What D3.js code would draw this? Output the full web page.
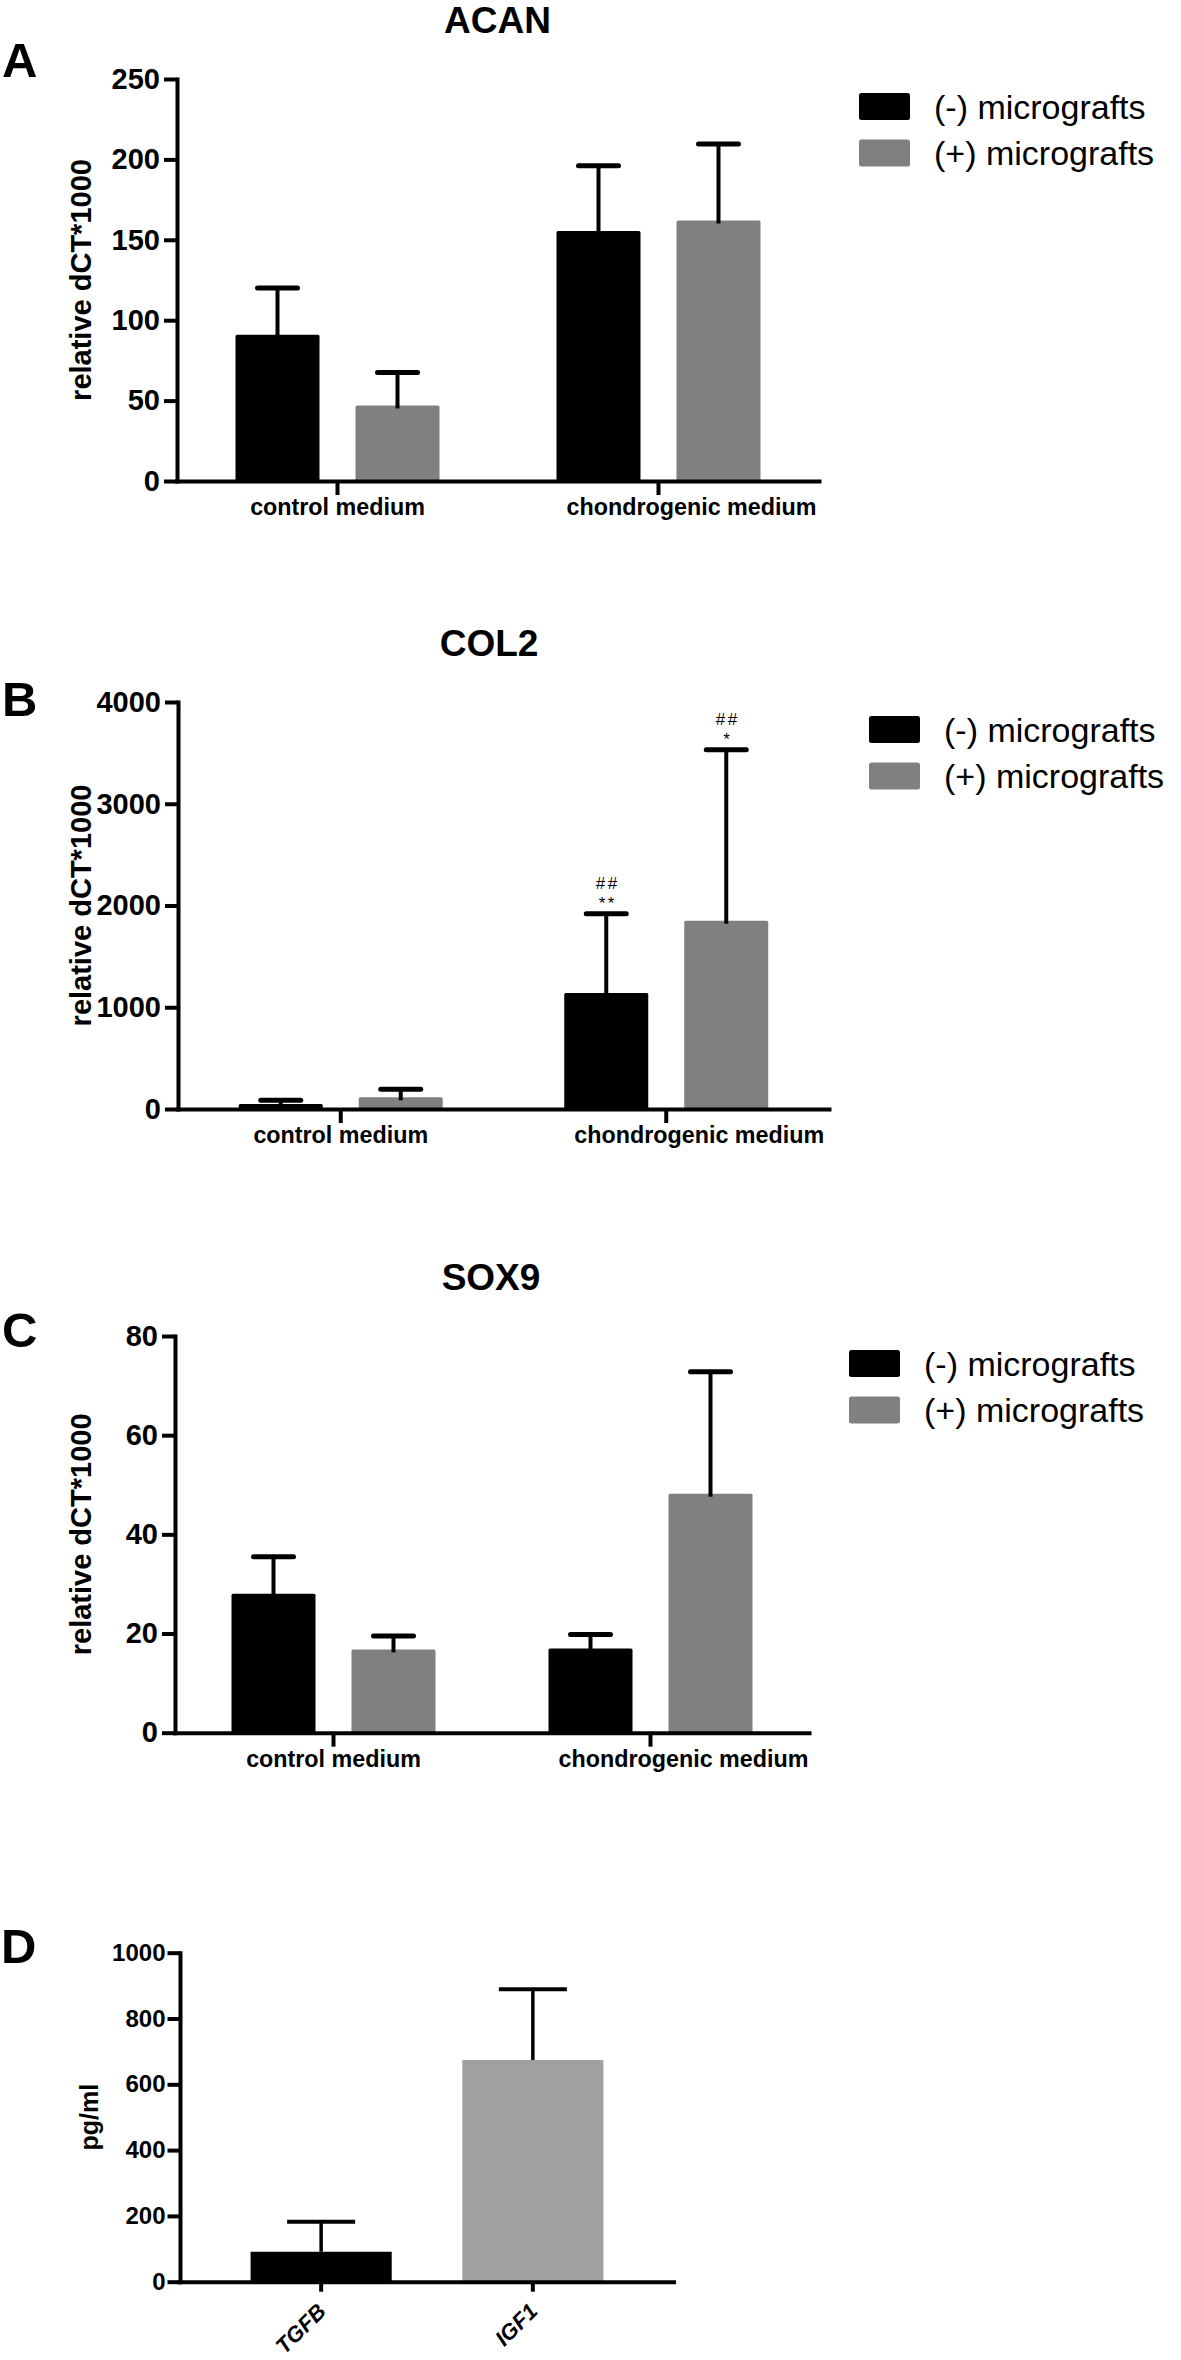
<!DOCTYPE html>
<html><head><meta charset="utf-8">
<script src="https://cdn.jsdelivr.net/npm/d3@7"></script>
<style>
html,body{margin:0;padding:0;background:#fff;}
svg{display:block;font-family:"Liberation Sans",Arial,Helvetica,sans-serif;}
</style>
</head><body>
<script>
// ---------- data ----------
const mediumCategories = ["control medium", "chondrogenic medium"];
const seriesNames = ["(-) micrografts", "(+) micrografts"];
const seriesColors = ["#000000", "#808080"];

const acanMinusMean = [91, 155.5];
const acanMinusSD   = [29, 40.5];
const acanPlusMean  = [47, 162];
const acanPlusSD    = [20.5, 47.5];
const acanTicks     = [0, 50, 100, 150, 200, 250];

const col2MinusMean = [50, 1140];
const col2MinusSD   = [35, 780];
const col2PlusMean  = [115, 1850];
const col2PlusSD    = [80, 1680];
const col2Ticks     = [0, 1000, 2000, 3000, 4000];
const col2Marks = [
  {category: "chondrogenic medium", series: "(-) micrografts", lines: ["##", "**"]},
  {category: "chondrogenic medium", series: "(+) micrografts", lines: ["##", "*"]}
];

const sox9MinusMean = [28, 17];
const sox9MinusSD   = [7.5, 2.8];
const sox9PlusMean  = [16.8, 48.2];
const sox9PlusSD    = [2.7, 24.6];
const sox9Ticks     = [0, 20, 40, 60, 80];

const factorCategories = ["TGFB", "IGF1"];
const factorMean   = [91, 674];
const factorSD     = [91, 215];
const factorColors = ["#000000", "#a0a0a0"];
const factorTicks  = [0, 200, 400, 600, 800, 1000];

// ---------- drawing ----------
const W = 1181, H = 2360;
const svg = d3.select("body").append("svg").attr("width", W).attr("height", H);
const plain = d3.format("d");

function styleAxis(sel, w) {
  sel.attr("font-family", null);
  sel.select(".domain").attr("stroke", "#000").attr("stroke-width", w).attr("stroke-linecap", "square");
  sel.selectAll(".tick line").attr("stroke", "#000").attr("stroke-width", w);
  sel.selectAll(".tick text").attr("fill", "#000");
}

function groupedPanel(opt) {
  const g = svg.append("g");
  const x = d3.scaleBand().domain(mediumCategories).range([opt.x0, opt.x1]).padding(0);
  const bw = x.bandwidth();
  const xs = d3.scaleBand().domain(seriesNames).range([bw / 2 - 102, bw / 2 + 102]).paddingInner(0.3);
  const y = d3.scaleLinear().domain([0, d3.max(opt.ticks)]).range([opt.yBottom, opt.yTop]);

  const rows = [];
  seriesNames.forEach((s, si) => mediumCategories.forEach((c, ci) =>
    rows.push({c, s, si, mean: opt.means[si][ci], sd: opt.sds[si][ci]})));

  g.selectAll("rect.bar").data(rows).join("rect").attr("class", "bar")
    .attr("x", d => x(d.c) + xs(d.s)).attr("width", xs.bandwidth())
    .attr("y", d => y(d.mean)).attr("height", d => y(0) - y(d.mean))
    .attr("rx", 1.5).attr("fill", d => seriesColors[d.si]);

  const cx = d => x(d.c) + xs(d.s) + xs.bandwidth() / 2;
  g.selectAll("line.stem").data(rows).join("line").attr("class", "stem")
    .attr("x1", cx).attr("x2", cx)
    .attr("y1", d => Math.min(y(d.mean) + 3, y(0))).attr("y2", d => y(d.mean + d.sd))
    .attr("stroke", "#000").attr("stroke-width", 4);
  g.selectAll("line.cap").data(rows).join("line").attr("class", "cap")
    .attr("x1", d => cx(d) - 20).attr("x2", d => cx(d) + 20)
    .attr("y1", d => y(d.mean + d.sd)).attr("y2", d => y(d.mean + d.sd))
    .attr("stroke", "#000").attr("stroke-width", 5).attr("stroke-linecap", "round");

  // significance marks
  if (opt.marks) {
    opt.marks.forEach(m => {
      const r = rows.find(d => d.c === m.category && d.s === m.series);
      const capY = y(r.mean + r.sd);
      const n = m.lines.length;
      m.lines.forEach((t, i) => {
        g.append("text").attr("x", cx(r) + 1.5).attr("y", capY - 5 - (n - 1 - i) * 20)
          .attr("text-anchor", "middle").attr("font-size", 17).attr("letter-spacing", 2.5)
          .attr("fill", "#000").text(t);
      });
    });
  }

  // axes
  const ya = g.append("g").attr("transform", `translate(${opt.x0},0)`)
    .call(d3.axisLeft(y).tickValues(opt.ticks).tickFormat(plain)
      .tickSize(13).tickPadding(4).tickSizeOuter(0));
  ya.selectAll(".tick text").attr("font-size", 29).attr("font-weight", "bold");
  styleAxis(ya, 4);

  const xa = g.append("g").attr("transform", `translate(0,${opt.yBottom})`)
    .call(d3.axisBottom(x).tickSize(14).tickPadding(3.5).tickSizeOuter(0));
  xa.selectAll(".tick text").attr("font-size", 23.3).attr("font-weight", "bold")
    .attr("dx", (d, i) => i === 1 ? 33 : 0);
  styleAxis(xa, 4);

  // y label
  g.append("text").attr("transform", `translate(91,${(opt.yTop + opt.yBottom) / 2}) rotate(-90)`)
    .attr("text-anchor", "middle").attr("font-size", 29).attr("font-weight", "bold")
    .attr("fill", "#000").text("relative dCT*1000");

  // title
  g.append("text").attr("x", opt.titleX).attr("y", opt.yTop - 46)
    .attr("text-anchor", "middle").attr("font-size", 37).attr("font-weight", "bold")
    .attr("fill", "#000").text(opt.title);

  // panel letter
  g.append("text").attr("x", 2).attr("y", opt.letterY)
    .attr("font-size", 49).attr("font-weight", "bold").attr("fill", "#000").text(opt.letter);

  // legend
  const lg = g.append("g").attr("transform", `translate(${opt.x1 + 40},${opt.yTop + 14})`);
  const li = lg.selectAll("g").data(seriesNames).join("g")
    .attr("transform", (d, i) => `translate(0,${i * 46.5})`);
  li.append("rect").attr("width", 51).attr("height", 27).attr("rx", 2.5)
    .attr("fill", (d, i) => seriesColors[i]);
  li.append("text").attr("x", 75).attr("y", 25.5).attr("font-size", 34)
    .attr("fill", "#000").text(d => d);
}

groupedPanel({title: "ACAN", letter: "A", x0: 177, x1: 819, yTop: 79, yBottom: 481,
  titleX: 497.5, letterY: 77,
  means: [acanMinusMean, acanPlusMean], sds: [acanMinusSD, acanPlusSD], ticks: acanTicks});

groupedPanel({title: "COL2", letter: "B", x0: 178, x1: 829, yTop: 702, yBottom: 1109,
  titleX: 489, letterY: 716,
  means: [col2MinusMean, col2PlusMean], sds: [col2MinusSD, col2PlusSD], ticks: col2Ticks,
  marks: col2Marks});

groupedPanel({title: "SOX9", letter: "C", x0: 175, x1: 809, yTop: 1336, yBottom: 1732.7,
  titleX: 491, letterY: 1347,
  means: [sox9MinusMean, sox9PlusMean], sds: [sox9MinusSD, sox9PlusSD], ticks: sox9Ticks});

// ---------- panel D ----------
(function () {
  const x0 = 180, x1 = 674, yTop = 1952.7, yBottom = 2281.7;
  const g = svg.append("g");
  const x = d3.scaleBand().domain(factorCategories).range([x0, x1]).padding(1 / 3);
  const y = d3.scaleLinear().domain([0, d3.max(factorTicks)]).range([yBottom, yTop]);
  const rows = factorCategories.map((c, i) => ({c, i, mean: factorMean[i], sd: factorSD[i]}));

  g.selectAll("rect").data(rows).join("rect")
    .attr("x", d => x(d.c)).attr("width", x.bandwidth())
    .attr("y", d => y(d.mean)).attr("height", d => y(0) - y(d.mean))
    .attr("fill", d => factorColors[d.i]);

  const cx = d => x(d.c) + x.bandwidth() / 2;
  g.selectAll("line.stem").data(rows).join("line").attr("class", "stem")
    .attr("x1", cx).attr("x2", cx)
    .attr("y1", d => y(d.mean)).attr("y2", d => y(d.mean + d.sd))
    .attr("stroke", "#000").attr("stroke-width", 3.5);
  g.selectAll("line.cap").data(rows).join("line").attr("class", "cap")
    .attr("x1", d => cx(d) - 34).attr("x2", d => cx(d) + 34)
    .attr("y1", d => y(d.mean + d.sd)).attr("y2", d => y(d.mean + d.sd))
    .attr("stroke", "#000").attr("stroke-width", 4);

  const ya = g.append("g").attr("transform", `translate(${x0},0)`)
    .call(d3.axisLeft(y).tickValues(factorTicks).tickFormat(plain)
      .tickSize(12.5).tickPadding(2).tickSizeOuter(0));
  ya.selectAll(".tick text").attr("font-size", 24).attr("font-weight", "bold");
  styleAxis(ya, 4);

  const xa = g.append("g").attr("transform", `translate(0,${yBottom})`)
    .call(d3.axisBottom(x).tickSize(10).tickSizeOuter(0).tickFormat(""));
  styleAxis(xa, 4);
  xa.select(".domain").attr("d", `M${x0},0.5H${x1}`);

  g.selectAll("text.cat").data(rows).join("text").attr("class", "cat")
    .attr("transform", d => `translate(${cx(d) + 6},${yBottom + 31}) rotate(-45)`)
    .attr("text-anchor", "end").attr("font-size", 22).attr("font-weight", "bold")
    .attr("font-style", "italic").attr("fill", "#000").text(d => d.c);

  g.append("text").attr("transform", `translate(98,${(yTop + yBottom) / 2}) rotate(-90)`)
    .attr("text-anchor", "middle").attr("font-size", 25).attr("font-weight", "bold")
    .attr("fill", "#000").text("pg/ml");

  g.append("text").attr("x", 1).attr("y", 1963)
    .attr("font-size", 49).attr("font-weight", "bold").attr("fill", "#000").text("D");
})();
</script>
</body></html>
